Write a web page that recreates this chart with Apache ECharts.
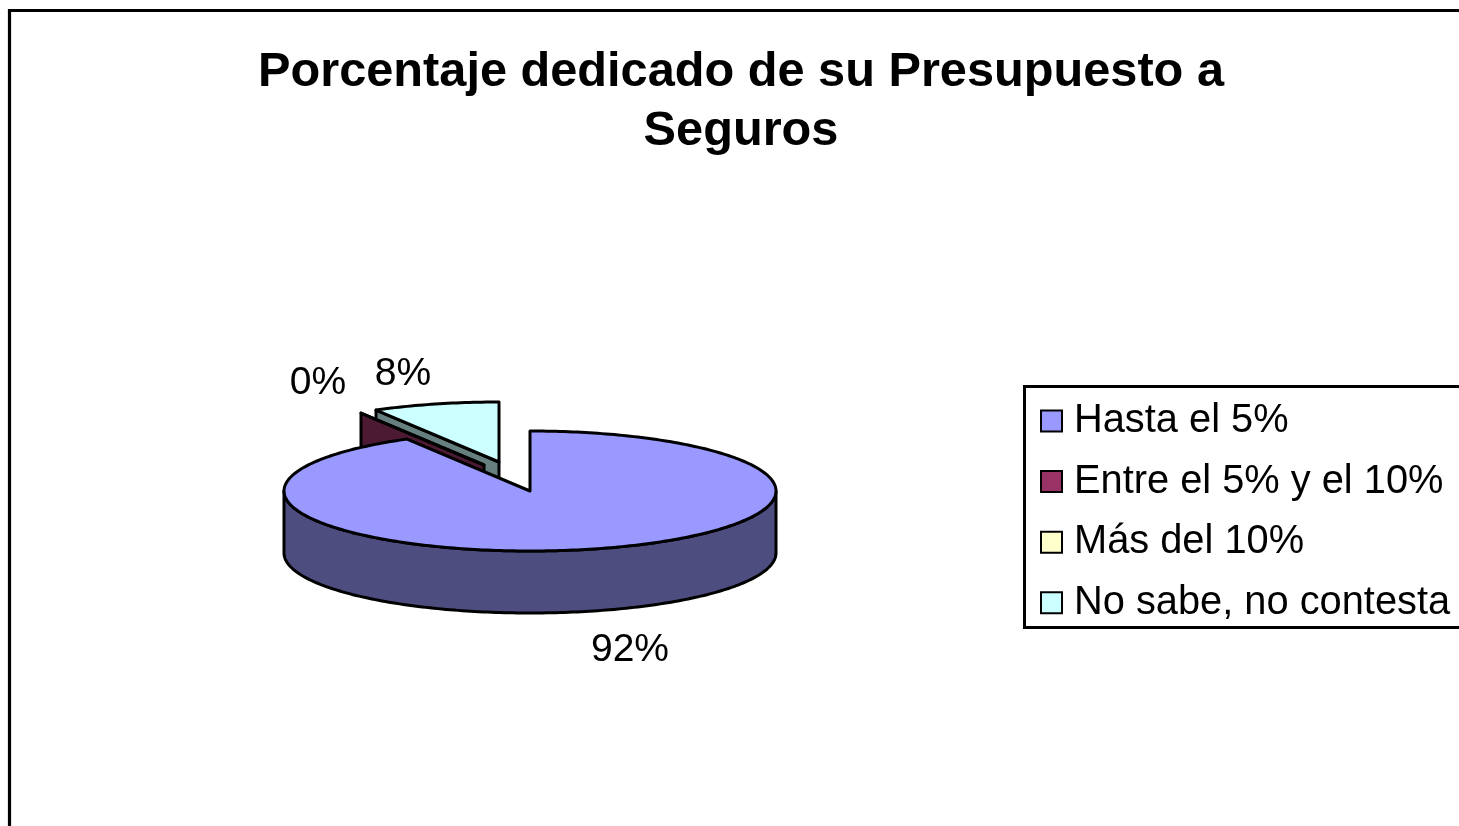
<!DOCTYPE html>
<html><head><meta charset="utf-8">
<style>html,body{margin:0;padding:0;background:#fff}#c{width:1459px;height:826px}</style>
<script src="https://cdn.jsdelivr.net/npm/echarts@6/dist/echarts.min.js"></script>
</head><body><div id="c"></div>
<script>
var titleText = 'Porcentaje dedicado de su Presupuesto a\nSeguros';
var categories = ['Hasta el 5%', 'Entre el 5% y el 10%', 'Más del 10%', 'No sabe, no contesta'];
var values = [22, 0, null, 2];
var topColors = ['#9999FF', '#993366', '#FFFFCC', '#CCFFFF'];
var wallColors = ['#4D4D80', '#4D1A33', '#808066', '#668080'];
var zOrder = [5, 4, 2, 3];
// layout constants
var CX = 530, CY = 491, RX = 246, RY = 60, DEPTH = 62, LW = 3;
var offsets = [[0, 0], [-46, -26], [0, 0], [-31, -29]];
var labelPos = [[630, 650], [318, 383], null, [403, 374]];

var total = 0;
values.forEach(function (v) { total += v || 0; });
function startAngle(i) {
  var s = 0;
  for (var k = 0; k < i; k++) s += values[k] || 0;
  return s / total * 360;
}
function pt(deg, cx, cy) {
  var t = deg * Math.PI / 180;
  return [cx + RX * Math.sin(t), cy - RY * Math.cos(t)];
}
function arc(a, b, cx, cy) {
  var pts = [], n = Math.max(1, Math.ceil(Math.abs(b - a)));
  for (var i = 0; i <= n; i++) pts.push(pt(a + (b - a) * i / n, cx, cy));
  return pts;
}
function strokeStyle(fill) {
  return { fill: fill, stroke: '#000', lineWidth: LW, lineJoin: 'round' };
}
function makeRender(idx) {
  return function (params, api) {
    var v = api.value(0);
    if (isNaN(v)) return null;
    var a = startAngle(idx), b = a + v / total * 360;
    var cx = CX + offsets[idx][0], cy = CY + offsets[idx][1];
    var children = [];
    if (idx !== 0) {
      var rim = pt(a, cx, cy);
      children.push({ type: 'polygon', shape: { points: [rim, [cx, cy], [cx, cy + DEPTH], [rim[0], rim[1] + DEPTH]] }, style: strokeStyle(wallColors[idx]) });
    }
    var sa = Math.max(a, 90), sb = Math.min(b, 270);
    if (sb > sa) {
      var topArc = arc(sa, sb, cx, cy);
      var botArc = arc(sb, sa, cx, cy + DEPTH);
      children.push({ type: 'polygon', shape: { points: topArc.concat(botArc) }, style: strokeStyle(wallColors[idx]) });
    }
    var topPts = [[cx, cy]].concat(arc(a, b, cx, cy));
    children.push({ type: 'polygon', shape: { points: topPts }, style: strokeStyle(topColors[idx]) });
    return { type: 'group', children: children };
  };
}
var series = categories.map(function (name, i) {
  return {
    type: 'custom', name: name, coordinateSystem: 'none', z: zOrder[i], silent: true,
    renderItem: makeRender(i),
    itemStyle: { color: topColors[i], borderColor: '#000', borderWidth: 3 },
    encode: { value: 0 },
    data: [[values[i] === null ? '-' : values[i]]]
  };
});
var labelGraphics = [];
categories.forEach(function (c, i) {
  if (values[i] === null) return;
  labelGraphics.push({
    type: 'text', x: labelPos[i][0], y: labelPos[i][1], z: 10,
    style: { text: Math.round(values[i] / total * 100) + '%', fontFamily: 'Liberation Sans', fontSize: 39, fill: '#000', align: 'center', verticalAlign: 'middle' }
  });
});
var chart = echarts.init(document.getElementById('c'), null, { renderer: 'canvas' });
chart.setOption({
  animation: false,
  backgroundColor: '#fff',
  title: {
    text: titleText, left: 736, top: 38, textAlign: 'center',
    textStyle: { fontFamily: 'Liberation Sans', fontWeight: 'bold', fontSize: 48.7, lineHeight: 59, color: '#000' }
  },
  legend: {
    data: categories, orient: 'vertical', left: 1040, top: 401, padding: 0,
    icon: 'rect', itemWidth: 21, itemHeight: 21, itemGap: 20.6, selectedMode: false,
    textStyle: { fontFamily: 'Liberation Sans', fontSize: 39.8, lineHeight: 40, color: '#000', padding: [0, 0, 0, 7] }
  },
  graphic: [
    { type: 'rect', shape: { x: 9.5, y: 10.5, width: 1600, height: 1000 }, style: { fill: 'none', stroke: '#000', lineWidth: 3.2 }, z: -1, silent: true },
    { type: 'rect', shape: { x: 1024.5, y: 386.5, width: 600, height: 241 }, style: { fill: '#fff', stroke: '#000', lineWidth: 3 }, z: -1, silent: true }
  ].concat(labelGraphics),
  series: series
});
</script></body></html>
